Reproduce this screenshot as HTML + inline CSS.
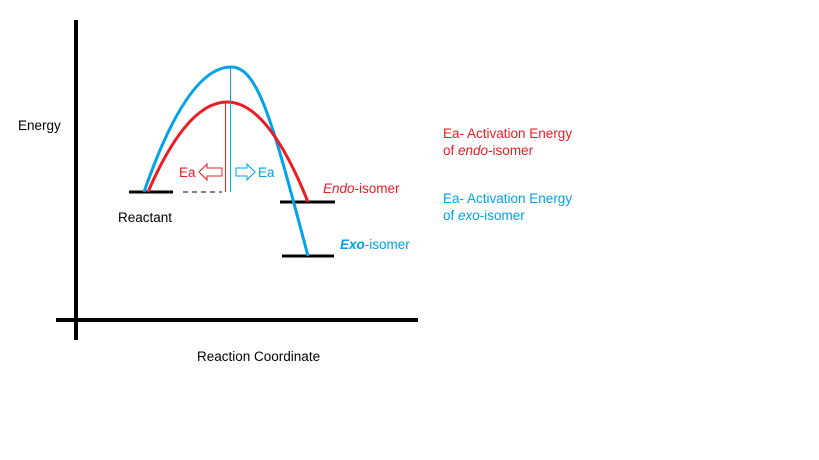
<!DOCTYPE html>
<html><head><meta charset="utf-8"><style>
html,body{margin:0;padding:0;background:#fff;}
svg{display:block;}
text{font-family:"Liberation Sans",sans-serif;font-size:13.5px;}
</style></head><body>
<svg width="819" height="460" viewBox="0 0 819 460" xmlns="http://www.w3.org/2000/svg">
<rect width="819" height="460" fill="#fff"/>
<line x1="76" y1="20" x2="76" y2="340" stroke="#000" stroke-width="4"/>
<line x1="56" y1="320" x2="418" y2="320" stroke="#000" stroke-width="4"/>
<line x1="129" y1="192" x2="173" y2="192" stroke="#000" stroke-width="3"/>
<line x1="280" y1="202" x2="335" y2="202" stroke="#000" stroke-width="3"/>
<line x1="282" y1="256" x2="334" y2="256" stroke="#000" stroke-width="3"/>
<line x1="183" y1="192" x2="222" y2="192" stroke="#000" stroke-width="1" stroke-dasharray="5,4"/>
<path d="M144,192 Q187.5,67 231,67 C258,67 272,120 308,256" fill="none" stroke="#00a2e8" stroke-width="3"/>
<path d="M148,192 Q187,102 227,102 Q268,102 308,202" fill="none" stroke="#ed1c24" stroke-width="3"/>
<line x1="225.5" y1="103" x2="225.5" y2="192" stroke="#ed1c24" stroke-width="1"/>
<line x1="230.5" y1="68" x2="230.5" y2="192" stroke="#00a2e8" stroke-width="1"/>
<path d="M199,172 L207,164 L207,168 L222,168 L222,176 L207,176 L207,180 Z" fill="none" stroke="#ed1c24" stroke-width="1"/>
<path d="M255,172 L247,164 L247,168 L236,168 L236,176 L247,176 L247,180 Z" fill="none" stroke="#00a2e8" stroke-width="1"/>
<text x="179" y="177" fill="#ed1c24">Ea</text>
<text x="258" y="177" fill="#00a2e8">Ea</text>
<text x="18" y="130" fill="#000">Energy</text>
<text x="118" y="222" fill="#000">Reactant</text>
<text x="197" y="361" fill="#000">Reaction Coordinate</text>
<text x="323" y="193" fill="#ed1c24"><tspan font-style="italic">Endo</tspan>-isomer</text>
<text x="340" y="249" fill="#00a2e8"><tspan font-style="italic" font-weight="bold">Exo</tspan>-isomer</text>
<text x="443" y="138" fill="#ed1c24">Ea- Activation Energy</text>
<text x="443" y="155" fill="#ed1c24">of <tspan font-style="italic">endo</tspan>-isomer</text>
<text x="443" y="203" fill="#00a2e8">Ea- Activation Energy</text>
<text x="443" y="220" fill="#00a2e8">of <tspan font-style="italic">exo</tspan>-isomer</text>
</svg>
</body></html>
